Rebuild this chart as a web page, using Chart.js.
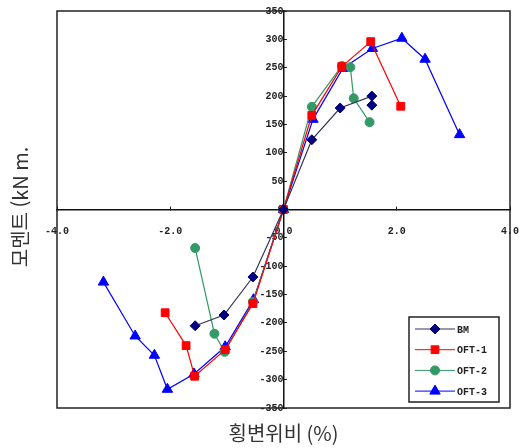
<!DOCTYPE html>
<html lang="ko">

<head>
    <meta charset="UTF-8">
    <title>모멘트 - 횡변위비</title>
    <style>
        html, body {
            margin: 0;
            padding: 0;
            background: #fff;
        }

        #chart-container {
            position: relative;
            width: 519px;
            height: 448px;
        }
    </style>
</head>

<body>
    <div id="chart-container">
        <canvas id="moment-chart"></canvas>
    </div>
    <script src="https://cdn.jsdelivr.net/npm/chart.js"></script>
    <script>
    // drift ratio (%) and moment (kN m)
    const bmX = [-1.56, -1.05, -0.54, 0, 0.50, 1.00, 1.56, 1.56];
    const bmY = [-205, -186, -119, 0, 123, 179, 200, 184];

    const oft1X = [-2.09, -1.72, -1.57, -1.03, -0.54, 0, 0.50, 1.03, 1.54, 2.07];
    const oft1Y = [-182, -240, -294, -247, -166, 0, 166, 252, 296, 182];

    const oft2X = [-1.56, -1.22, -1.04, -0.54, 0, 0.50, 1.03, 1.18, 1.24, 1.52];
    const oft2Y = [-68, -219, -251, -163, 0, 181, 253, 251, 196, 154];

    const oft3X = [-3.18, -2.62, -2.28, -2.05, -1.58, -1.03, -0.53, 0, 0.52, 1.05, 1.57, 2.09, 2.50, 3.11];
    const oft3Y = [-128, -223, -257, -317, -290, -242, -159, 0, 159, 249, 284, 302, 265, 132];

    const seriesNames = ['BM', 'OFT-1', 'OFT-2', 'OFT-3'];
    const xTitle = '횡변위비 (%)';
    const yTitle = '모멘트 (kN m.';

    function toPoints(xs, ys) {
        return xs.map((x, i) => ({ x: x, y: ys[i] }));
    }

    // keep label overhang from shrinking the plot
    function noOverhang(scale) {
        scale.paddingLeft = 0;
        scale.paddingRight = 0;
        scale.paddingTop = 0;
        scale.paddingBottom = 0;
    }

    const tickFont = { family: 'Liberation Mono', size: 10, weight: 'bold' };

    // frame round the plot, axis titles and the boxed legend
    const decorations = {
        id: 'decorations',
        afterDraw(chart) {
            const ctx = chart.ctx;
            const area = chart.chartArea;
            ctx.save();
            ctx.strokeStyle = '#222';
            ctx.lineWidth = 1.5;
            ctx.strokeRect(area.left, area.top, area.right - area.left, area.bottom - area.top);

            ctx.fillStyle = '#333';
            ctx.font = '20px "Noto Sans CJK KR"';
            ctx.textAlign = 'center';
            ctx.textBaseline = 'middle';
            ctx.fillText(xTitle, (area.left + area.right) / 2, 433);
            ctx.translate(20, 207);
            ctx.rotate(-Math.PI / 2);
            ctx.fillText(yTitle, 0, 0);
            ctx.restore();

            // legend
            const lx = 409, ly = 317, lw = 90, lh = 85;
            ctx.save();
            ctx.fillStyle = '#fff';
            ctx.fillRect(lx, ly, lw, lh);
            ctx.strokeStyle = '#222';
            ctx.lineWidth = 1.5;
            ctx.strokeRect(lx, ly, lw, lh);
            ctx.font = 'bold 10px "Liberation Mono"';
            ctx.textAlign = 'left';
            ctx.textBaseline = 'middle';
            chart.data.datasets.forEach((ds, i) => {
                const y = ly + 12 + i * 20.7;
                ctx.strokeStyle = ds.borderColor;
                ctx.lineWidth = 1;
                ctx.beginPath();
                ctx.moveTo(lx + 6, y);
                ctx.lineTo(lx + 46, y);
                ctx.stroke();
                ctx.fillStyle = ds.pointBackgroundColor;
                ctx.strokeStyle = ds.pointBackgroundColor;
                Chart.helpers.drawPoint(ctx, {
                    pointStyle: ds.pointStyle,
                    radius: ds.pointRadius,
                    rotation: 0,
                    borderWidth: 1
                }, lx + 26, y);
                ctx.fillStyle = '#222';
                ctx.fillText(ds.label, lx + 48, y + 1);
            });
            ctx.restore();
        }
    };

    const ctx = document.getElementById('moment-chart').getContext('2d');
    const momentChart = new Chart(ctx, {
        type: 'scatter',
        data: {
            datasets: [
                {
                    label: seriesNames[0],
                    data: toPoints(bmX, bmY),
                    borderColor: '#333355',
                    pointBackgroundColor: '#000080',
                    pointBorderColor: '#000080',
                    pointStyle: 'rectRot',
                    pointRadius: 5,
                },
                {
                    label: seriesNames[1],
                    data: toPoints(oft1X, oft1Y),
                    borderColor: '#ff0000',
                    pointBackgroundColor: '#ff0000',
                    pointBorderColor: '#ff0000',
                    pointStyle: 'rect',
                    pointRadius: 5.5,
                },
                {
                    label: seriesNames[2],
                    data: toPoints(oft2X, oft2Y),
                    borderColor: '#339966',
                    pointBackgroundColor: '#339966',
                    pointBorderColor: '#339966',
                    pointStyle: 'circle',
                    pointRadius: 4.5,
                },
                {
                    label: seriesNames[3],
                    data: toPoints(oft3X, oft3Y),
                    borderColor: '#0000ff',
                    pointBackgroundColor: '#0000ff',
                    pointBorderColor: '#0000ff',
                    pointStyle: 'triangle',
                    pointRadius: 6,
                },
            ].map(ds => Object.assign(ds, { showLine: true, borderWidth: 1.2, pointBorderWidth: 1, tension: 0 })),
        },
        options: {
            responsive: true,
            maintainAspectRatio: false,
            animation: false,
            layout: {
                padding: { left: 57, right: 9, top: 11, bottom: 40 }
            },
            plugins: {
                legend: { display: false },
                tooltip: { enabled: false },
            },
            scales: {
                x: {
                    type: 'linear',
                    position: { y: 0 },
                    min: -4,
                    max: 4,
                    afterFit: noOverhang,
                    ticks: {
                        stepSize: 2,
                        autoSkip: false,
                        maxRotation: 0,
                        padding: 20,
                        color: '#222',
                        font: tickFont,
                        callback: v => v.toFixed(1),
                    },
                    grid: { drawOnChartArea: false, tickLength: -4, color: '#222' },
                    border: { color: '#111', width: 1.5 },
                },
                y: {
                    type: 'linear',
                    position: { x: 0 },
                    min: -350,
                    max: 350,
                    afterFit: noOverhang,
                    ticks: {
                        stepSize: 50,
                        autoSkip: false,
                        padding: 15,
                        color: '#222',
                        font: tickFont,
                    },
                    grid: { drawOnChartArea: false, tickLength: -4, color: '#222' },
                    border: { color: '#111', width: 1.5 },
                },
            },
        },
        plugins: [decorations],
    });
    </script>
</body>

</html>
